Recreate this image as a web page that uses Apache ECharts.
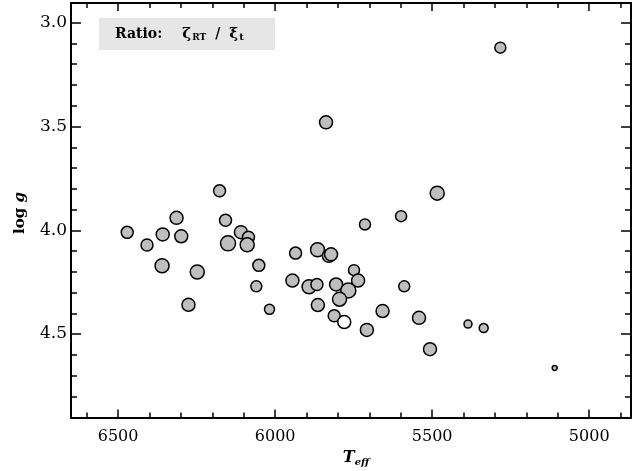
<!DOCTYPE html>
<html>
<head>
<meta charset="utf-8">
<script src="https://cdn.jsdelivr.net/npm/echarts@6/dist/echarts.min.js"></script>
<style>html,body{margin:0;padding:0;background:#fff}#c{width:635px;height:471px}</style>
</head>
<body>
<div id="c"></div>
<script>
// Data (gray points)
const teff = [6177, 6314, 6158, 6471, 6358, 6299, 6109, 6085, 6150, 6089, 6408, 6360, 6248, 6052, 6060, 6276, 6018,
  5714, 5599, 5935, 5865, 5829, 5822, 5749, 5736, 5945, 5892, 5867, 5806, 5767, 5795, 5589, 5864, 5812, 5658, 5542, 5708,
  5484, 5386, 5336, 5507, 5110, 5283, 5838];
const logg = [3.810, 3.940, 3.952, 4.010, 4.020, 4.029, 4.009, 4.034, 4.063, 4.070, 4.071, 4.171, 4.201, 4.169, 4.270, 4.359, 4.381,
  3.972, 3.932, 4.110, 4.094, 4.123, 4.116, 4.192, 4.242, 4.242, 4.272, 4.261, 4.261, 4.290, 4.332, 4.270, 4.360, 4.412, 4.389, 4.422, 4.480,
  3.821, 4.452, 4.471, 4.573, 4.663, 3.120, 3.480];
const ratio = [1.2, 1.3, 1.2, 1.2, 1.3, 1.3, 1.3, 1.2, 1.5, 1.4, 1.2, 1.4, 1.4, 1.2, 1.1, 1.3, 1.0,
  1.1, 1.1, 1.2, 1.4, 1.3, 1.3, 1.1, 1.3, 1.3, 1.4, 1.2, 1.3, 1.5, 1.4, 1.1, 1.3, 1.2, 1.3, 1.3, 1.3,
  1.4, 0.8, 0.9, 1.3, 0.5, 1.1, 1.3];
// Data (open point)
const whiteTeff = [5780];
const whiteLogg = [4.442];
const whiteRatio = [1.3];

const xMajor = [5000, 5500, 6000, 6500];
const xMinor = [4900, 5100, 5200, 5300, 5400, 5600, 5700, 5800, 5900, 6100, 6200, 6300, 6400, 6600];
const yMajor = [3.0, 3.5, 4.0, 4.5];
const yMinor = [3.1, 3.2, 3.3, 3.4, 3.6, 3.7, 3.8, 3.9, 4.1, 4.2, 4.3, 4.4, 4.6, 4.7, 4.8];

const FONT = '"DejaVu Serif", serif';
const X_MIN = 4867, X_MAX = 6650, Y_MIN = 2.905, Y_MAX = 4.902;

function xAx(pos, vals, len, labels, line) {
  return {
    type: 'value', position: pos, inverse: true, min: X_MIN, max: X_MAX,
    axisLine: {show: line, onZero: false, lineStyle: {color: '#000', width: 2}},
    axisTick: {show: true, inside: true, length: len, customValues: vals, lineStyle: {color: '#000', width: 1.5}},
    axisLabel: {show: labels, customValues: vals, color: '#000', fontFamily: FONT, fontSize: 16, margin: 11,
      formatter: v => String(Math.round(v))},
    splitLine: {show: false}
  };
}
function yAx(pos, vals, len, labels, line) {
  return {
    type: 'value', position: pos, inverse: true, min: Y_MIN, max: Y_MAX,
    axisLine: {show: line, onZero: false, lineStyle: {color: '#000', width: 2}},
    axisTick: {show: true, inside: true, length: len, customValues: vals, lineStyle: {color: '#000', width: 1.5}},
    axisLabel: {show: labels, customValues: vals, color: '#000', fontFamily: FONT, fontSize: 17, margin: 4,
      formatter: v => v.toFixed(1)},
    splitLine: {show: false}
  };
}

const chart = echarts.init(document.getElementById('c'), null, {renderer: 'canvas'});
chart.setOption({
  animation: false,
  grid: {left: 71, right: 4, top: 3, bottom: 53.5},
  xAxis: [
    xAx('bottom', xMajor, 8, true, true),
    xAx('bottom', xMinor, 5, false, false),
    xAx('top', xMajor, 8, false, true),
    xAx('top', xMinor, 5, false, false)
  ],
  yAxis: [
    yAx('left', yMajor, 10, true, true),
    yAx('left', yMinor, 6, false, false),
    yAx('right', yMajor, 10, false, true),
    yAx('right', yMinor, 6, false, false)
  ],
  series: [
    {
      type: 'scatter', xAxisIndex: 0, yAxisIndex: 0,
      data: teff.map((t, i) => [t, logg[i], ratio[i]]),
      symbolSize: v => v[2] * 10,
      itemStyle: {color: '#bebebe', borderColor: '#000', borderWidth: 1.5, opacity: 1}
    },
    {
      type: 'scatter', xAxisIndex: 0, yAxisIndex: 0,
      data: whiteTeff.map((t, i) => [t, whiteLogg[i], whiteRatio[i]]),
      symbolSize: v => v[2] * 10,
      itemStyle: {color: '#ffffff', borderColor: '#000', borderWidth: 1.5, opacity: 1}
    }
  ],
  graphic: [
    {type: 'rect', shape: {x: 99, y: 18, width: 176, height: 32}, style: {fill: '#e6e6e6'}, z: 10},
    {type: 'text', x: 115, y: 34, z: 11, style: {
      text: '{b|Ratio:}{g|ζ}{s|RT}{sl|/}{g2|ξ}{s2|t}',
      verticalAlign: 'middle',
      rich: {
        b: {fontFamily: FONT, fontWeight: 'bold', fontSize: 14, fill: '#000', padding: [0, 20, 0, 0]},
        g: {fontFamily: FONT, fontWeight: 'bold', fontSize: 15, fill: '#000', padding: [0, 1, 0, 0]},
        s: {fontFamily: FONT, fontWeight: 'bold', fontSize: 9, fill: '#000', padding: [7, 0, 0, 0]},
        sl: {fontFamily: FONT, fontWeight: 'bold', fontSize: 14, fill: '#000', padding: [0, 9, 0, 9]},
        g2: {fontFamily: FONT, fontWeight: 'bold', fontSize: 15, fill: '#000', padding: [0, 1, 0, 0]},
        s2: {fontFamily: FONT, fontWeight: 'bold', fontSize: 10, fill: '#000', padding: [7, 0, 0, 0]}
      }
    }},
    {type: 'text', x: 20, y: 213, rotation: Math.PI / 2, z: 11, style: {
      text: '{b|log }{i|g}', align: 'center', verticalAlign: 'middle',
      rich: {
        b: {fontFamily: FONT, fontWeight: 'bold', fontSize: 15, fill: '#000'},
        i: {fontFamily: FONT, fontWeight: 'bold', fontStyle: 'italic', fontSize: 15, fill: '#000'}
      }
    }},
    {type: 'text', x: 356, y: 458, z: 11, style: {
      text: '{i|T}{s|eff}', align: 'center', verticalAlign: 'middle',
      rich: {
        i: {fontFamily: FONT, fontWeight: 'bold', fontStyle: 'italic', fontSize: 16, fill: '#000'},
        s: {fontFamily: FONT, fontWeight: 'bold', fontStyle: 'italic', fontSize: 10, fill: '#000', padding: [8, 0, 0, 0]}
      }
    }}
  ]
});
</script>
</body>
</html>
